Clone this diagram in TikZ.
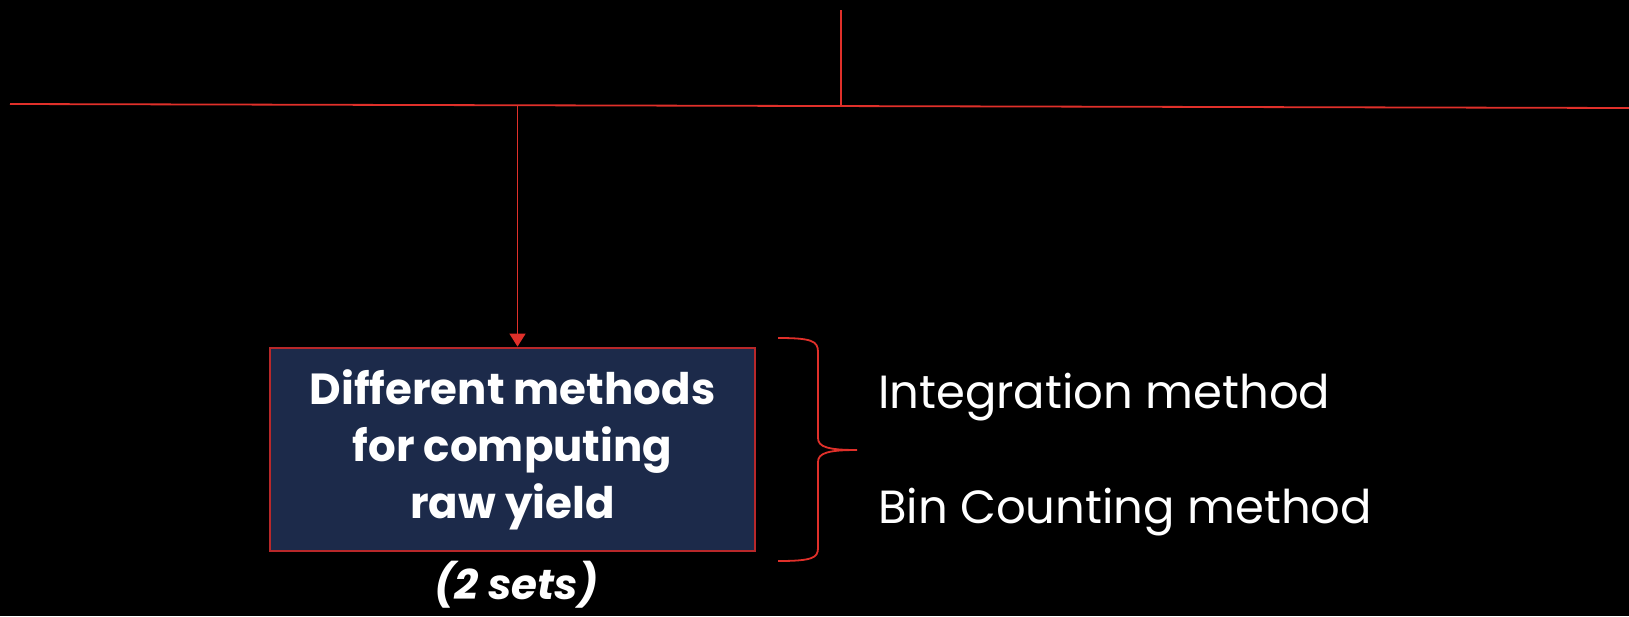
\documentclass[tikz,border=0pt]{standalone}
\usepackage{fontspec}
\setmainfont{Poppins}
\usepackage{tikz}
\usetikzlibrary{arrows.meta,positioning,calc}

\definecolor{linered}{HTML}{E0302A}
\definecolor{boxred}{HTML}{B8282A}
\definecolor{boxnavy}{HTML}{1C2A4A}

\begin{document}
\begin{tikzpicture}[x=1pt,y=-1pt,>={Triangle[length=13pt,width=16pt]},
    link/.style={draw=linered,line width=1.8pt},
    methodbox/.style={draw=boxred,line width=2.8pt,fill=boxnavy,text=white,
      minimum width=485pt,minimum height=203pt,align=center,
      font=\fontsize{43.5}{57}\selectfont\bfseries},
    methodtext/.style={text=white,anchor=west,inner sep=0pt,
      font=\fontsize{46.5}{50}\selectfont}]

% the page
    \fill[black] (0,0) rectangle (1629,616);
    \useasboundingbox (0,0) rectangle (1629,616);

% the rail
    \coordinate (railL) at (10,104);
    \coordinate (railR) at (1629,108);
    \coordinate (top) at (841,10);
    \coordinate (railtop) at (841,106);
    \coordinate (railbox) at (517.5,105);
    \draw[link] (railL) -- (railR);
    \draw[link,line width=1.5pt] (top) -- (railtop);

% the box
    \node[methodbox] (yield) at (512.5,449.5) {Different methods\\for computing\\raw yield};
    \node[text=white,font=\fontsize{42}{45}\selectfont\bfseries\itshape]
      (sets) at ($(yield.south)+(4,32)$) {(2 sets)};
    \draw[link,line width=1.5pt,->] (railbox) -- (railbox |- yield.north);

% the brace
    \draw[linered,line width=1.8pt] (778,338) .. controls (812,338) and (818,341) .. (818,352)
      -- (818,438) .. controls (818,447) and (828,450) .. (857,450)
      .. controls (828,450) and (818,453) .. (818,462)
      -- (818,548) .. controls (818,558) and (812,561) .. (778,561);

    \node[methodtext] (integ) at (878,397) {Integration method};
    \node[methodtext] (bincount) at (878,512) {Bin Counting method};

\end{tikzpicture}
\end{document}
